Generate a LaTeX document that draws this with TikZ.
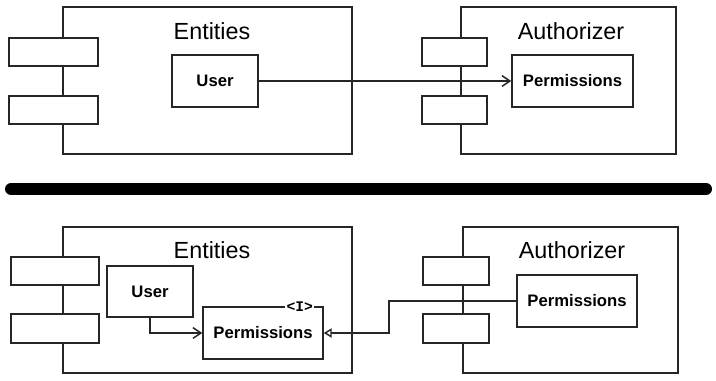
\documentclass[tikz,border=0pt]{standalone}
\usepackage{fontspec}
\setmainfont{Liberation Sans}
\setmonofont{Liberation Mono}
\usetikzlibrary{arrows.meta, positioning, fit, calc}

\begin{document}
\begin{tikzpicture}[
        x=0.75pt, y=-0.75pt,
        comp_box/.style={rectangle, draw=black!85, line width=1.1pt, inner sep=0pt},
        port_box/.style={rectangle, draw=black!85, fill=white, line width=1.1pt, inner sep=0pt},
        class_box/.style={rectangle, draw=black!85, fill=white, line width=1.1pt, inner sep=0pt,
                          minimum height=39pt, font=\bfseries\fontsize{12.5}{15}\selectfont},
        comp_title/.style={anchor=base, font=\fontsize{17.5}{21}\selectfont},
        stereo/.style={fill=white, inner sep=1pt, font=\ttfamily\bfseries\fontsize{11}{12}\selectfont},
        uses/.style={-{Straight Barb[length=6pt, width=8pt]}, line width=1.1pt, black!85},
        realizes/.style={-{Triangle[open, length=6pt, width=7pt, fill=white]}, line width=1.1pt, black!85}
    ]
    \useasboundingbox (0,0) rectangle (716,380);

    % top: direct dependency
    \node[comp_box, fit={(63,7) (352,154)}] (ent1) {};
    \node[comp_box, fit={(461,7) (676,154)}] (auth1) {};
    \node[comp_title] (ent1_title) at (212,39) {Entities};
    \node[comp_title] (auth1_title) at (571,39) {Authorizer};
    \node[port_box, fit={(9,38) (98,66)}] (ent1_p1) {};
    \node[port_box, fit={(9,96) (98,124)}] (ent1_p2) {};
    \node[port_box, fit={(422,38) (487,66)}] (auth1_p1) {};
    \node[port_box, fit={(422,96) (487,124)}] (auth1_p2) {};
    \node[class_box, minimum width=64.5pt] (user1) at (215,81) {User};
    \node[class_box, minimum width=90.75pt] (perm1) at (572.5,81) {Permissions};

    \draw[uses] (user1.east) -- (perm1.west);

    % divider
    \draw[line width=9pt, line cap=round, black] (11,189) -- (706,189);

    % bottom: inverted dependency
    \node[comp_box, fit={(63,227) (352,373)}] (ent2) {};
    \node[comp_box, fit={(463,227) (678,373)}] (auth2) {};
    \node[comp_title] (ent2_title) at (212,258) {Entities};
    \node[comp_title] (auth2_title) at (572,258) {Authorizer};
    \node[port_box, fit={(11,257) (99,285)}] (ent2_p1) {};
    \node[port_box, fit={(11,314) (99,343)}] (ent2_p2) {};
    \node[port_box, fit={(423,257) (489,285)}] (auth2_p1) {};
    \node[port_box, fit={(423,314) (489,343)}] (auth2_p2) {};
    \node[class_box, minimum width=64.5pt, minimum height=38.25pt] (user2) at (150,291.5) {User};
    \node[class_box, minimum width=90pt] (iperm2) at (263,333) {Permissions};
    \node[class_box, minimum width=90pt] (perm2) at (577,301) {Permissions};
    \node[stereo, xshift=-18pt] (iperm2_tag) at (iperm2.north east) {<I>};

    \coordinate (impl_bend) at (389,301);
    \draw[uses] (user2.south) |- (iperm2.west);
    \draw[realizes] (perm2.west) -- (impl_bend) |- (iperm2.east);
\end{tikzpicture}
\end{document}
